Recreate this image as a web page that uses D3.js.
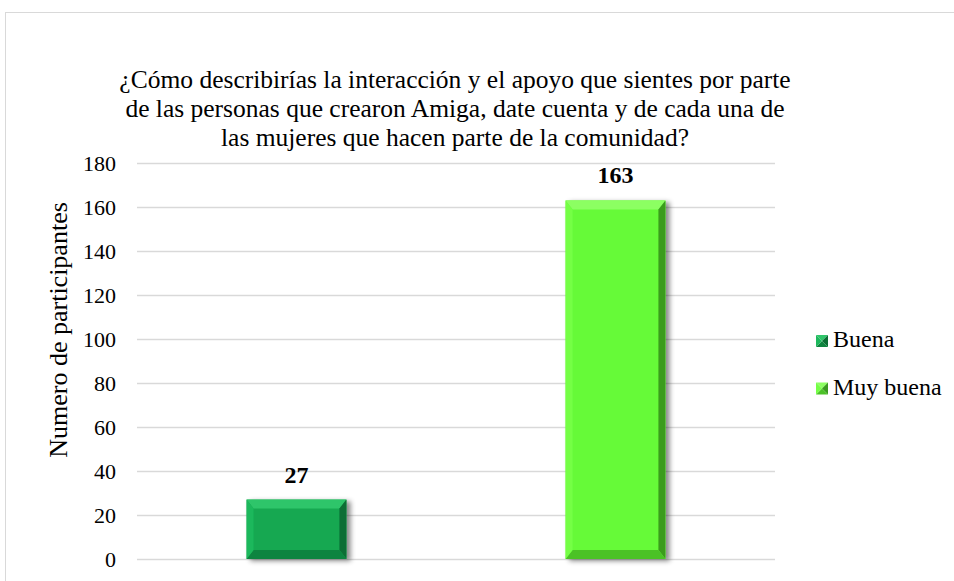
<!DOCTYPE html>
<html>
<head>
<meta charset="utf-8">
<script src="https://cdn.jsdelivr.net/npm/d3@7"></script>
<style>
body { margin: 0; background: #fff; }
svg { display: block; }
text { font-family: "Liberation Serif", "Times New Roman", serif; fill: #000; }
</style>
</head>
<body>
<svg></svg>
<script>
const categories = ["Buena", "Muy buena"]
const values = [27, 163]
const yTicks = [0, 20, 40, 60, 80, 100, 120, 140, 160, 180]
const titleLines = [
    "¿Cómo describirías la interacción y el apoyo que sientes por parte",
    "de las personas que crearon Amiga, date cuenta y de cada una de",
    "las mujeres que hacen parte de la comunidad?"
]
const Y_LABEL = "Numero de participantes"

// face + the four bevel edges
const palette = [
    { face: "#14a851", top: "#2fc56a", left: "#1db85c", right: "#0b6e34", bottom: "#0f843f" },
    { face: "#66fa38", top: "#8cff62", left: "#74ff45", right: "#3a9c1f", bottom: "#4cc228" }
]

const W = 954, H = 581
const plot = { left: 137, right: 775, top: 163, bottom: 559 }

const svg = d3.select("svg")
    .attr("width", W)
    .attr("height", H)

const defs = svg.append("defs")
defs.append("filter")
    .attr("id", "shadow")
    .attr("x", "-20%").attr("y", "-20%")
    .attr("width", "150%").attr("height", "150%")
    .append("feDropShadow")
    .attr("dx", 4).attr("dy", 2)
    .attr("stdDeviation", 2.5)
    .attr("flood-color", "#000")
    .attr("flood-opacity", 0.45)

// chart frame
svg.append("rect")
    .attr("x", 5.5).attr("y", 12.5)
    .attr("width", W + 10).attr("height", H + 10)
    .attr("fill", "none")
    .attr("stroke", "#d9d9d9")

const x = d3.scaleBand()
    .domain(categories)
    .range([plot.left, plot.right])
    .paddingInner(0.687)
    .paddingOuter(0.3435)

const y = d3.scaleLinear()
    .domain([0, 180])
    .range([plot.bottom, plot.top])

// gridlines + tick labels
const yAxis = svg.append("g")
    .attr("transform", "translate(" + plot.left + ",0)")
    .call(d3.axisLeft(y).tickValues(yTicks).tickSize(-(plot.right - plot.left)).tickPadding(21))
yAxis.select(".domain").remove()
yAxis.selectAll(".tick line").attr("stroke", "#d9d9d9").attr("stroke-width", 1.3)
yAxis.selectAll(".tick text")
    .style("font-family", "'Liberation Serif', 'Times New Roman', serif")
    .style("font-size", "22px")
    .attr("fill", "#000")

// title
svg.append("g")
    .selectAll("text")
    .data(titleLines)
    .join("text")
    .attr("x", 455)
    .attr("y", (d, i) => 88 + i * 29)
    .attr("text-anchor", "middle")
    .style("font-size", "25.5px")
    .text(d => d)

// y label
svg.append("text")
    .attr("transform", "translate(67,330) rotate(-90)")
    .attr("text-anchor", "middle")
    .style("font-size", "26px")
    .text(Y_LABEL)

function bevelPaths(x0, y0, x1, y1, bw, bh)
{
    return {
        top: [[x0, y0], [x1, y0], [x1 - bw, y0 + bh], [x0 + bw, y0 + bh]],
        right: [[x1, y0], [x1, y1], [x1 - bw, y1 - bh], [x1 - bw, y0 + bh]],
        bottom: [[x0, y1], [x1, y1], [x1 - bw, y1 - bh], [x0 + bw, y1 - bh]],
        left: [[x0, y0], [x0 + bw, y0 + bh], [x0 + bw, y1 - bh], [x0, y1]]
    }
}

const bars = svg.append("g")
categories.forEach(function (c, i)
{
    const x0 = x(c), x1 = x(c) + x.bandwidth()
    const y0 = y(values[i]), y1 = y(0)
    const col = palette[i]
    const g = bars.append("g").attr("filter", "url(#shadow)")
    g.append("rect")
        .attr("x", x0).attr("y", y0)
        .attr("width", x1 - x0).attr("height", y1 - y0)
        .attr("fill", col.face)
    const p = bevelPaths(x0, y0, x1, y1, 7, 9)
    Object.keys(p).forEach(function (k)
    {
        g.append("polygon")
            .attr("points", p[k].map(d => d.join(",")).join(" "))
            .attr("fill", col[k])
    })

    svg.append("text")
        .attr("x", x0 + x.bandwidth() / 2)
        .attr("y", y0 - 17)
        .attr("text-anchor", "middle")
        .style("font-size", "24px")
        .style("font-weight", "bold")
        .text(values[i])
})

// legend
const legend = svg.append("g")
    .selectAll("g")
    .data(categories)
    .join("g")
    .attr("transform", (d, i) => "translate(816," + (335 + i * 47.5) + ")")

legend.each(function (d, i)
{
    const g = d3.select(this)
    const col = palette[i]
    const p = bevelPaths(0, 0, 12, 12, 6, 6)
    Object.keys(p).forEach(function (k)
    {
        g.append("polygon")
            .attr("points", p[k].map(q => q.join(",")).join(" "))
            .attr("fill", col[k])
    })
})

legend.append("text")
    .attr("x", 17)
    .attr("y", 12)
    .style("font-size", "24px")
    .text(d => d)
</script>
</body>
</html>
